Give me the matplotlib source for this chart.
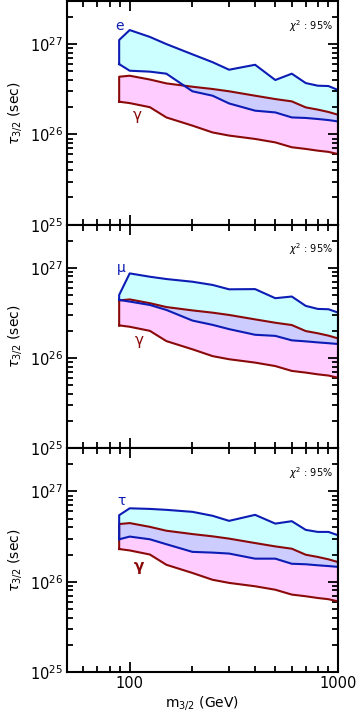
import numpy as np
import matplotlib
matplotlib.use("Agg")
import matplotlib.pyplot as plt
from matplotlib.ticker import LogLocator, NullFormatter, FixedLocator

# gravitino mass grid (GeV)
mass = [89, 100, 125, 150, 200, 250, 300, 400, 500, 600, 700, 800, 900, 1000]

# photon band, same in every panel
gam_hi = [4.35e26, 4.46e26, 4.05e26, 3.67e26, 3.37e26, 3.18e26, 3.0e26, 2.68e26, 2.46e26, 2.32e26, 1.99e26, 1.88e26, 1.77e26, 1.65e26]
gam_lo = [2.3e26, 2.22e26, 2.0e26, 1.54e26, 1.25e26, 1.05e26, 9.7e25, 8.9e25, 8.15e25, 7.2e25, 6.9e25, 6.6e25, 6.4e25, 6.05e25]

# electron channel
e_hi = [1.11e27, 1.43e27, 1.2e27, 1.0e27, 7.7e26, 6.3e26, 5.2e26, 5.9e26, 4.0e26, 4.7e26, 3.7e26, 3.46e26, 3.43e26, 3.1e26]
e_lo = [6.0e26, 5.07e26, 4.95e26, 4.7e26, 3.0e26, 2.68e26, 2.2e26, 1.83e26, 1.75e26, 1.54e26, 1.52e26, 1.48e26, 1.44e26, 1.39e26]

# muon channel
mu_hi = [5.0e26, 8.66e26, 7.95e26, 7.5e26, 7.0e26, 6.45e26, 5.77e26, 5.8e26, 4.6e26, 4.8e26, 3.78e26, 3.5e26, 3.47e26, 3.19e26]
mu_lo = [4.4e26, 4.22e26, 3.87e26, 3.41e26, 2.6e26, 2.33e26, 2.09e26, 1.81e26, 1.76e26, 1.57e26, 1.53e26, 1.49e26, 1.46e26, 1.43e26]

# tau channel
tau_hi = [5.45e26, 6.5e26, 6.4e26, 6.25e26, 5.94e26, 5.37e26, 4.72e26, 5.5e26, 4.4e26, 4.68e26, 3.75e26, 3.56e26, 3.56e26, 3.27e26]
tau_lo = [2.95e26, 3.16e26, 2.95e26, 2.6e26, 2.14e26, 2.1e26, 2.05e26, 1.8e26, 1.8e26, 1.58e26, 1.56e26, 1.52e26, 1.49e26, 1.46e26]

panels = [
    ("e", e_hi, e_lo, (89.5, 1.6e27), (109, 1.6e26), "normal"),
    ("μ", mu_hi, mu_lo, (91, 1.0e27), (111, 1.55e26), "normal"),
    ("τ", tau_hi, tau_lo, (91, 7.9e26), (111, 1.49e26), "bold"),
]

blue = "#0c1cb4"
red = "#8a0a0a"

fig = plt.figure(figsize=(3.56, 7.2), dpi=100)
gs = fig.add_gridspec(3, 1, left=67/356, right=338/356, top=1 - 1/720, bottom=1 - 672/720, hspace=0)

for i, (lab, hi, lo, lpos, gpos, gw) in enumerate(panels):
    ax = fig.add_subplot(gs[i])
    m = np.array(mass)
    hi = np.array(hi); lo = np.array(lo)
    ghi = np.array(gam_hi); glo = np.array(gam_lo)

    ax.fill_between(m, lo, hi, color="#ccffff", lw=0)
    ax.fill_between(m, glo, ghi, color="#ffccff", lw=0)
    ov_lo = np.maximum(lo, glo); ov_hi = np.minimum(hi, ghi)
    ax.fill_between(m, ov_lo, ov_hi, where=ov_hi > ov_lo, interpolate=True, color="#ccccff", lw=0)

    # outlines
    ax.plot(np.r_[m, m[::-1], m[:1]], np.r_[glo, ghi[::-1], glo[:1]], color=red, lw=1.5)
    ax.plot(np.r_[m, m[::-1], m[:1]], np.r_[lo, hi[::-1], lo[:1]], color=blue, lw=1.5)

    ax.text(lpos[0], lpos[1], lab, color=blue, fontsize=10, ha="center", va="center")
    ax.text(gpos[0], gpos[1], "γ", color=red, fontsize=11, ha="center", va="center", fontweight=gw)
    ax.text(0.9, 0.89, r"$\chi^2$ : 95%", transform=ax.transAxes, fontsize=7, ha="center", va="center")

    ax.set_xscale("log"); ax.set_yscale("log")
    ax.set_xlim(50, 1000); ax.set_ylim(1e25, 3e27)
    ax.xaxis.set_major_locator(FixedLocator([100, 1000]))
    ax.xaxis.set_minor_locator(FixedLocator([60, 70, 80, 90, 200, 300, 400, 500, 600, 700, 800, 900]))
    ax.xaxis.set_minor_formatter(NullFormatter())
    ax.yaxis.set_major_locator(LogLocator(base=10, numticks=10))
    ax.yaxis.set_minor_locator(LogLocator(base=10, subs=np.arange(2, 10), numticks=10))
    ax.yaxis.set_minor_formatter(NullFormatter())
    ax.tick_params(which="both", direction="in", top=True, right=True, width=1.3)
    ax.tick_params(which="major", length=7.5, labelsize=10.5, pad=3)
    ax.tick_params(which="minor", length=4.5)
    for s in ax.spines.values():
        s.set_linewidth(1.5)
    ax.set_ylabel(r"$\tau_{3/2}$ (sec)", fontsize=10, labelpad=4)
    if i < 2:
        ax.tick_params(labelbottom=False)
    else:
        ax.set_xticks([100, 1000])
        ax.set_xticklabels(["100", "1000"])
        ax.set_xlabel(r"m$_{3/2}$ (GeV)", fontsize=10, labelpad=2)

fig.savefig("out.png", dpi=100)
